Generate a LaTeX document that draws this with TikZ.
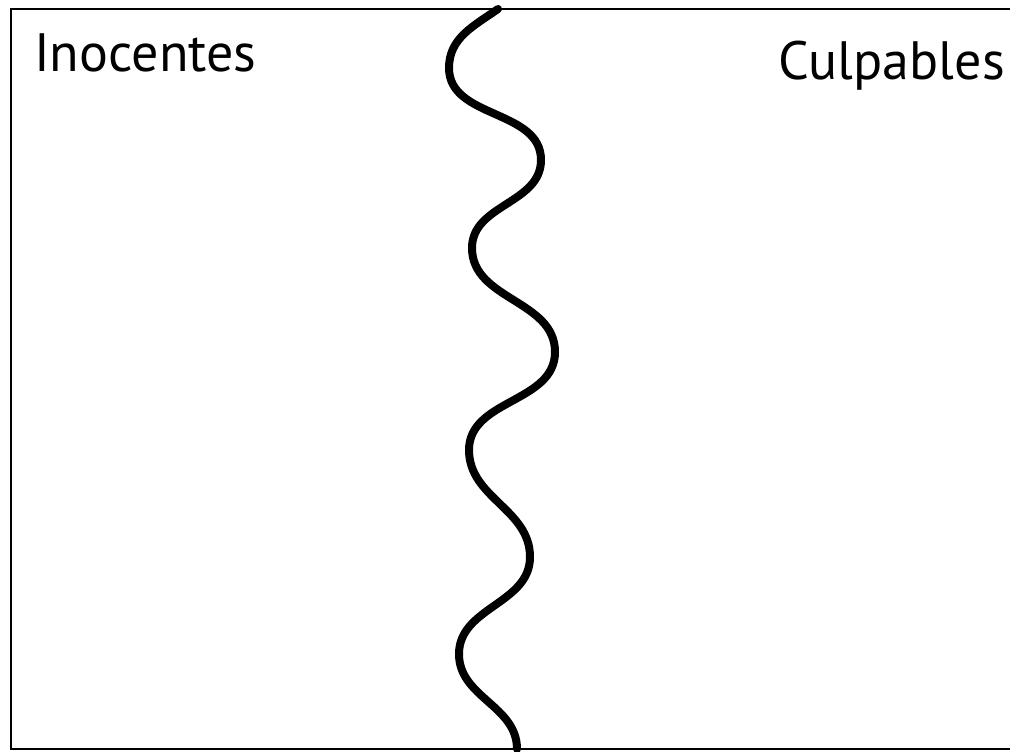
\documentclass[tikz,border=0pt]{standalone}
\usepackage{fontspec}
\setmainfont{PT Sans}
\usetikzlibrary{positioning}

\begin{document}
\begin{tikzpicture}[
  x=0.75pt,
  y=-0.75pt,
  frame line/.style={
    draw,
    black,
    line width=2.2pt
  },
  border line/.style={
    draw,
    black,
    line width=6pt,
    line cap=round
  },
  side label/.style={
    font=\fontsize{40.5}{46}\selectfont,
    inner sep=0pt
  },
]
\useasboundingbox (0,0) rectangle (1010,752);
\draw[frame line] (11,9) rectangle (1030,749);
\node[side label,anchor=base west] (inocentes) at (34,72) {Inocentes};
\node[side label,anchor=base east] (culpables) at (1005,80) {Culpables};
\coordinate (top) at (498,9);
\coordinate (bottom) at (517,749);
\draw[border line] (top)
  to[out=215,in=90] (449,68)
  to[out=-90,in=90] (541,160)
  to[out=-90,in=90] (472,248)
  to[out=-90,in=90] (555,352)
  to[out=-90,in=90] (469,450)
  to[out=-90,in=90] (530,557)
  to[out=-90,in=90] (459,654)
  to[out=-90,in=90] (bottom);
\end{tikzpicture}
\end{document}
